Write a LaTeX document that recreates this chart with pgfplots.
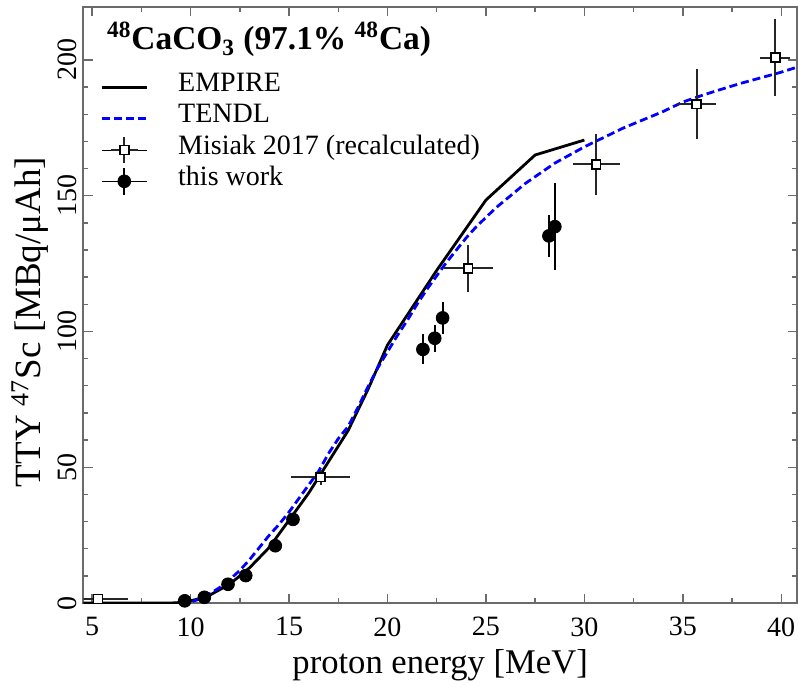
\documentclass[border=0pt]{standalone}
\usepackage{fontspec}
\setmainfont{Liberation Serif}
\usepackage{pgfplots}
\pgfplotsset{compat=1.18}
\definecolor{axgray}{gray}{0.42}
\begin{document}
\begin{tikzpicture}
\begin{axis}[
  name=ax,
  scale only axis,
  width=356.85pt, height=298pt,
  xmin=4.55, xmax=40.8, ymin=0, ymax=219.5,
  xtick={5,10,...,40}, ytick={0,50,...,200},
  minor x tick num=1, minor y tick num=4,
  tick align=inside,
  major tick length=4.7pt, minor tick length=2.3pt,
  axis line style={axgray, line width=0.9pt},
  every tick/.style={axgray, line width=0.7pt},
  /pgf/number format/assume math mode=true,
  tick label style={font=\fontsize{14}{16}\selectfont},
  xticklabel style={anchor=north, inner sep=0pt, yshift=-7pt},
  yticklabel style={rotate=90, anchor=south, inner sep=3.3pt},
  xlabel={proton energy [MeV]},
  ylabel={TTY \textsuperscript{47}Sc [MBq/μAh]},
  xlabel style={font=\fontsize{17.3}{20}\selectfont, at={(axis description cs:0.5,-0.1191)}, anchor=base},
  ylabel style={font=\fontsize{18.5}{22}\selectfont, at={(axis description cs:-0.0747,0.4715)}, anchor=center},
  legend style={draw=none, fill=none, inner sep=0pt, at={(axis description cs:0.0234,0.8926)}, anchor=north west,
    font=\fontsize{14}{15.7}\selectfont, row sep=0pt, column sep=15pt,
    nodes={inner sep=0pt, text height=10pt, text depth=5.7pt}},
  legend cell align=left,
]
\addplot[black, line width=1.4pt,
  legend image code/.code={\draw[black,line width=1.4pt] (0pt,0pt) -- (22.5pt,0pt);}]
coordinates {(4.5,0) (9,0) (9.5,0.2) (10,0.8) (10.5,1.7) (11,3) (12,7) (13,13) (14,20.5) (15,30.5) (16,40.5) (17,52) (18,63.5) (19,78.5) (20,95) (22.5,122.5) (25,148.4) (27.5,165) (30,170.5)};
\addlegendentry{EMPIRE}
\addplot[blue, line width=1.4pt, dash pattern=on 4pt off 2pt,
  legend image code/.code={\draw[blue,line width=1.4pt,dash pattern=on 4pt off 2pt] (0pt,0pt) -- (22.5pt,0pt);}]
coordinates {(9.5,0) (10,0.4) (10.5,1.5) (11,3.5) (11.5,5.8) (12,8.7) (12.5,12) (13,16) (13.5,20.5) (14,25) (14.5,29) (15,33.5) (15.5,38.5) (16,43.5) (16.5,48.5) (17,55) (17.5,60.5) (18,65) (18.5,72) (19,79.5) (19.5,86.5) (20,92.5) (20.5,98.5) (21,104) (21.5,110) (22,115.5) (22.5,120.5) (23,125.5) (23.5,130) (24,134.5) (24.5,138.5) (25,142) (25.5,145.5) (26,148.5) (26.5,151.5) (27,154.5) (27.5,157) (28,159.5) (28.5,162) (29,164) (29.5,166) (30,168) (31,171.5) (32,175) (33,178) (34,181) (35,184.5) (36,187) (37,189.3) (38,191.5) (39,193.5) (40,195.5) (41,197.8)};
\addlegendentry{TENDL}
\addplot[only marks, mark=square*, mark size=2.2pt, mark options={fill=white, draw=black, line width=0.8pt},
  legend image code/.code={\path (0pt,0pt) -- (22.5pt,0pt); \draw[black!85,line width=1pt] (4.55pt,0pt) -- (17.95pt,0pt) (11.25pt,-6.7pt) -- (11.25pt,6.7pt); \draw[black,fill=white,line width=0.8pt] (9.05pt,-2.2pt) rectangle (13.45pt,2.2pt);},
  error bars/.cd, x dir=both, x explicit, y dir=both, y explicit,
  error bar style={black!85, line width=1pt}, error mark=none]
coordinates {(5.3,1.5) +- (1.5,0.5) (16.6,46.3) +- (1.5,2.7) (24.1,123.2) +- (1.25,8.6) (30.6,161.5) +- (1.2,11.2) (35.7,183.7) +- (1.0,12.9) (39.7,200.9) +- (0.76,14)};
\addlegendentry{Misiak 2017 (recalculated)}
\addplot[only marks, mark=*, mark size=3.2pt, black,
  legend image code/.code={\path (0pt,0pt) -- (22.5pt,0pt); \draw[black,line width=1pt] (11.25pt,-6.7pt) -- (11.25pt,6.7pt); \fill[black] (11.25pt,0pt) circle (3.2pt);},
  error bars/.cd, y dir=both, y explicit,
  error bar style={black, line width=1pt}, error mark=none]
coordinates {(9.7,0.8) +- (0,0.3) (10.7,2.1) +- (0,0.3) (11.9,6.9) +- (0,0.6) (12.8,10.1) +- (0,0.8) (14.3,21.1) +- (0,1.5) (15.2,30.8) +- (0,2) (21.8,93.4) +- (0,5.5) (22.4,97.5) +- (0,5) (22.8,105) +- (0,6) (28.2,135.2) +- (0,7.8) (28.5,138.6) +- (0,16)};
\addlegendentry{this work}
\node[anchor=base west, font=\fontsize{16.7}{20}\selectfont\bfseries] at (axis description cs:0.0234,0.928) {\textsuperscript{48}CaCO\textsubscript{3} (97.1\% \textsuperscript{48}Ca)};
\end{axis}
\pgfresetboundingbox
\path[use as bounding box] ([shift={(-41.65pt,-41.5pt)}]ax.south west) rectangle ([shift={(0.5pt,3.5pt)}]ax.north east);
\end{tikzpicture}
\end{document}
